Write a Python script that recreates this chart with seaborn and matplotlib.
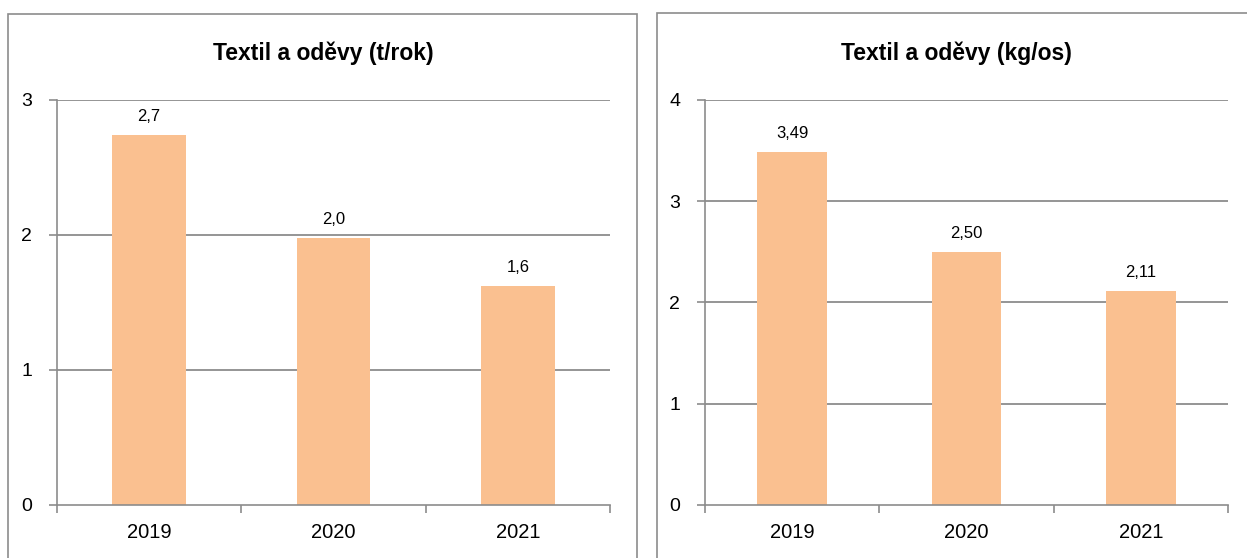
import matplotlib
matplotlib.use("Agg")
import matplotlib.pyplot as plt
import seaborn as sns
import pandas as pd
from matplotlib.patches import Rectangle

# data
years = ["2019", "2020", "2021"]
tons_per_year = [2.74, 1.98, 1.62]
tons_labels = ["2,7", "2,0", "1,6"]
kg_per_person = [3.49, 2.50, 2.11]
kg_labels = ["3,49", "2,50", "2,11"]
titles = ["Textil a oděvy (t/rok)", "Textil a oděvy (kg/os)"]
y_ticks_left = [0, 1, 2, 3]
y_ticks_right = [0, 1, 2, 3, 4]

sns.set_theme(style="white")
plt.rcParams["font.family"] = ["Liberation Sans Narrow", "Liberation Sans", "DejaVu Sans"]
plt.rcParams["text.color"] = "black"
plt.rcParams["xtick.labelcolor"] = "black"
plt.rcParams["ytick.labelcolor"] = "black"

BAR = "#FAC090"
GRID = "#8C8C8C"

fig = plt.figure(figsize=(12.47, 5.58), dpi=100)

# panel frames (chart areas)
fig.patches.append(Rectangle((0.0064, -0.05), 0.5045, 1.025, transform=fig.transFigure,
                             fill=False, edgecolor="#8C8C8C", linewidth=1.2))
fig.patches.append(Rectangle((0.527, -0.05), 0.5, 1.027, transform=fig.transFigure,
                             fill=False, edgecolor="#8C8C8C", linewidth=1.2))

ax1 = fig.add_axes([0.0457, 0.095, 0.4435, 0.7258])
ax2 = fig.add_axes([0.5654, 0.095, 0.4194, 0.7258])

panels = [
    (ax1, tons_per_year, tons_labels, titles[0], y_ticks_left, 0.259),
    (ax2, kg_per_person, kg_labels, titles[1], y_ticks_right, 0.767),
]

for ax, vals, labels, title, yt, title_x in panels:
    df = pd.DataFrame({"rok": years, "hodnota": vals})
    sns.barplot(data=df, x="rok", y="hodnota", ax=ax, color=BAR, width=0.4,
                saturation=1, edgecolor="none")
    ax.set_ylim(yt[0], yt[-1])
    ax.set_xlim(-0.5, len(years) - 0.5)
    ax.set_yticks(yt)
    ax.set_yticklabels([str(t) for t in yt], fontsize=14)
    for t in yt[1:]:
        ax.axhline(t, color=GRID, linewidth=1.3, zorder=0)
    ax.set_xticks(range(len(years)))
    ax.set_xticklabels(years, fontsize=14.5)
    ax.set_xticks([i - 0.5 for i in range(len(years) + 1)], minor=True)
    ax.tick_params(axis="x", which="major", length=0, pad=13)
    ax.tick_params(axis="x", which="minor", length=6, color=GRID, width=1.2, direction="out", bottom=True)
    ax.tick_params(axis="y", length=6, color=GRID, width=1.2, direction="out", left=True, pad=12)
    ax.set_xlabel("")
    ax.set_ylabel("")
    for s in ["top", "right"]:
        ax.spines[s].set_visible(False)
    for s in ["left", "bottom"]:
        ax.spines[s].set_color(GRID)
        ax.spines[s].set_linewidth(1.2)
    for i, (v, lab) in enumerate(zip(vals, labels)):
        ax.annotate(lab, (i, v), xytext=(0, 8), textcoords="offset points",
                    ha="center", va="bottom", fontsize=12)
    fig.text(title_x, 0.905, title, ha="center", va="center", fontsize=16.5, fontweight="bold")

fig.savefig("out.png", dpi=100)
